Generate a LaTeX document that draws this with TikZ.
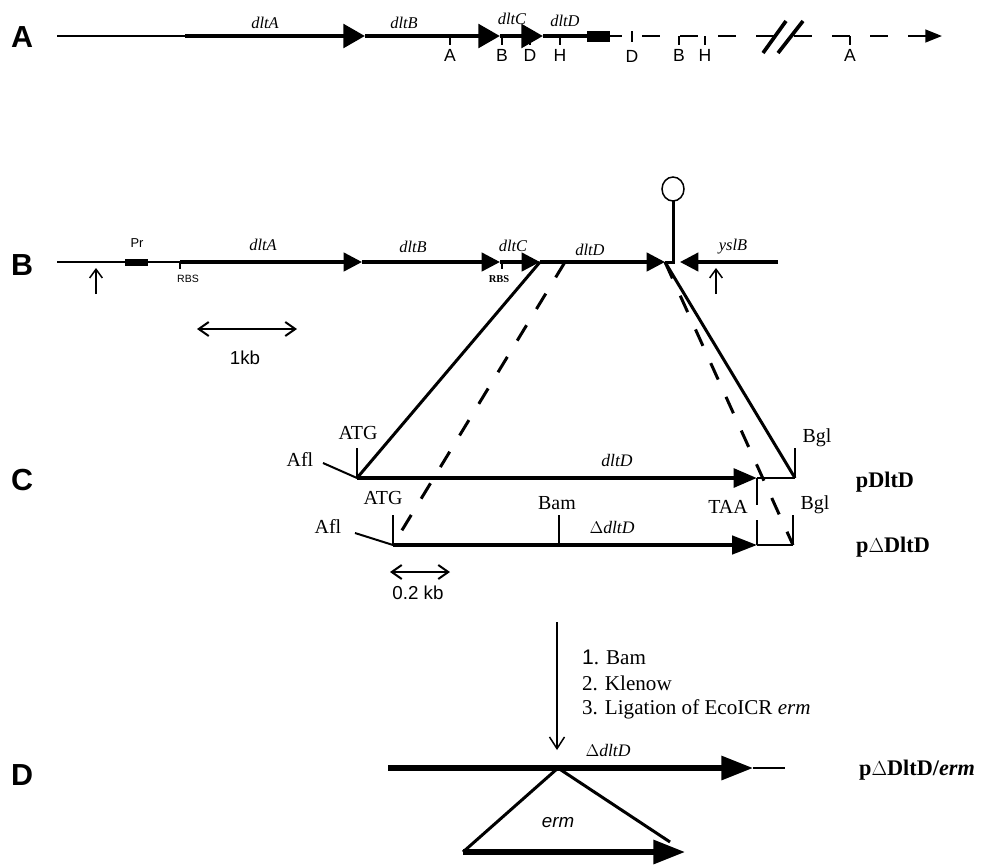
\documentclass[tikz,border=0pt]{standalone}
\usepackage{fontspec}
\setmainfont{Liberation Serif}
\setsansfont{Liberation Sans}
\usetikzlibrary{arrows.meta}

\begin{document}
\begin{tikzpicture}[
  x=0.3mm,y=-0.3mm,
  panel/.style={font=\sffamily\bfseries\fontsize{26}{26}\selectfont},
  genename/.style={font=\itshape\fontsize{14}{14}\selectfont},
  sitename/.style={font=\sffamily\fontsize{15}{15}\selectfont},
  enzyme/.style={font=\fontsize{17}{17}\selectfont},
  stepline/.style={anchor=west,font=\fontsize{18}{18}\selectfont},
  plasmid/.style={font=\bfseries\fontsize{19}{19}\selectfont},
  rbssans/.style={font=\sffamily\fontsize{9}{9}\selectfont},
  rbsserif/.style={font=\bfseries\fontsize{9}{9}\selectfont},
  scalelbl/.style={font=\sffamily\fontsize{16}{16}\selectfont},
  thinline/.style={line width=0.6mm},
  tickline/.style={line width=0.5mm},
  geneA/.style={line width=1.35mm,-{Triangle[length=6.5mm,width=7mm]}},
  geneB/.style={line width=1mm,-{Triangle[length=5.5mm,width=5.5mm]}},
  geneC/.style={line width=1.4mm,-{Triangle[length=7mm,width=5.5mm]}},
  geneD/.style={line width=1.6mm,-{Triangle[length=9.5mm,width=7mm]}},
  cross/.style={line width=0.9mm},
  crossdash/.style={cross,dash pattern=on 5.4mm off 5.7mm},
  barb/.style={line width=0.45mm,-{Straight Barb[length=2.6mm,width=3.8mm]}},
  scalebar/.style={line width=0.6mm,{Straight Barb[length=3mm,width=4.2mm]}-{Straight Barb[length=3mm,width=4.2mm]}}
]
\useasboundingbox (0,0) rectangle (985,867);

% A: the dlt operon and the map downstream of it
\node[panel] (pA) at (22,37) {A};
\coordinate (a0) at (57,36);
\coordinate (aA) at (185,36);
\coordinate (aB) at (365,36);
\coordinate (aC) at (500,36);
\coordinate (aD) at (543,36);
\coordinate (aE) at (610,36);
\coordinate (aF) at (622,36);
\draw[thinline] (a0) -- (aA);
\draw[geneA] (aA) -- (aB);
\draw[geneA] (aB) -- (aC);
\draw[geneA] (aC) -- (aD);
\draw[line width=1.35mm] (aD) -- (aE);
\fill (587,31) rectangle (610,42);
\draw[thinline] (aE) -- (aF);
\draw[line width=0.7mm,dash pattern=on 5.4mm off 6mm,
  -{Triangle[length=5mm,width=3.8mm]}] (642,36) -- (942,36);
\draw[line width=1.1mm] (763,53) -- (786,21) (778,53) -- (803,21);
\node[genename] (gA1) at (265,23) {dltA};
\node[genename] (gB1) at (404,23) {dltB};
\node[genename] (gC1) at (512,19) {dltC};
\node[genename] (gD1) at (565,21) {dltD};
\foreach \x/\lbl/\nm in {450/A/sA1,502/B/sB1,530/D/sD1,560/H/sH1,
                         679/B/sB2,705/H/sH2,850/A/sA2}{
  \draw[tickline] (\x,36) -- (\x,45);
  \node[sitename] (\nm) at (\x,55) {\lbl};
}
\draw[tickline] (632,31) -- (632,42);
\node[sitename] (sD2) at (632,56) {D};

% B: the chromosomal region used for the construct
\node[panel] (pB) at (22,265) {B};
\coordinate (b0) at (57,262);
\coordinate (bA) at (180,262);
\coordinate (bB) at (362,262);
\coordinate (bC) at (500,262);
\coordinate (bD) at (540,262);
\coordinate (bDd) at (565,262);
\coordinate (bE) at (665,262);
\coordinate (bStem) at (673,262);
\coordinate (bY) at (680,262);
\coordinate (bZ) at (778,262);
\draw[thinline] (b0) -- (bA);
\fill (125,259) rectangle (148,266);
\node[font=\sffamily\fontsize{11}{11}\selectfont] (pr) at (137,243) {Pr};
\draw[geneB] (bA) -- (bB);
\draw[geneB] (bB) -- (bC);
\draw[geneB] (bC) -- (bD);
\draw[geneB] (bD) -- (bE);
\draw[line width=0.9mm] (bE) -- (bStem) -- (673,201);
\draw[line width=0.45mm] (673,189) ellipse [x radius=11,y radius=12];
\draw[geneB] (bZ) -- (bY);
\draw[tickline] (bA) -- (180,269);
\node[rbssans] (rbs1) at (188,279) {RBS};
\draw[tickline] (502,262) -- (502,269);
\node[rbsserif] (rbs2) at (499,279) {RBS};
\node[genename] (gA2) at (263,245) {dltA};
\node[genename] (gB2) at (413,247) {dltB};
\node[genename] (gC2) at (513,246) {dltC};
\node[genename] (gD2) at (590,250) {dltD};
\node[genename] (gY) at (733,247) {yslB};
\draw[barb] (96,294) -- (96,268);
\draw[barb] (716,294) -- (716,268);
\draw[scalebar] (197,329) -- (297,329);
\node[scalelbl] (kb1) at (245,358) {1kb};

% C: the two plasmids, with the crossover lines from B
\node[panel] (pC) at (22,480) {C};
\coordinate (cAfl) at (323,463);
\coordinate (cATG) at (357,478);
\coordinate (cTAA) at (757,478);
\coordinate (cBgl) at (795,478);
\coordinate (dAfl) at (355,533);
\coordinate (dATG) at (393,545);
\coordinate (dBam) at (559,545);
\coordinate (dTAA) at (757,545);
\coordinate (dBgl) at (793,545);
\draw[cross] (bD) -- (cATG);
\draw[crossdash] (bDd) -- (dATG);
\draw[cross] (bE) -- (cBgl);
\draw[crossdash] (bE) -- (dBgl);

\draw[thinline] (cAfl) -- (cATG);
\draw[tickline] (cATG) -- (357,448);
\draw[geneC] (cATG) -- (cTAA);
\draw[thinline] (cTAA) -- (cBgl);
\draw[tickline] (cBgl) -- (795,448);
\draw[tickline] (cTAA) -- (757,505);
\node[enzyme] (afl1) at (300,459) {Afl};
\node[enzyme] (atg1) at (358,433) {ATG};
\node[font=\itshape\fontsize{15}{15}\selectfont] (gD3) at (617,460) {dltD};
\node[enzyme] (bgl1) at (817,438) {Bgl};
\node[plasmid] (pl1) at (885,482) {pDltD};

\draw[thinline] (dAfl) -- (dATG);
\draw[tickline] (dATG) -- (393,515);
\draw[line width=1.4mm] (dATG) -- (447,545);
\draw[line width=1.1mm,-{Triangle[length=7.5mm,width=5.5mm]}] (dATG) -- (dTAA);
\draw[tickline] (dBam) -- (559,515);
\draw[tickline] (dTAA) -- (757,520);
\draw[thinline] (dTAA) -- (dBgl);
\draw[tickline] (dBgl) -- (793,515);
\node[enzyme] (afl2) at (328,526) {Afl};
\node[enzyme] (atg2) at (383,498) {ATG};
\node[enzyme] (bam1) at (557,503) {Bam};
\node[enzyme] (taa) at (728,507) {TAA};
\node[font=\fontsize{15}{15}\selectfont] (gD4) at (612,527) {$\Delta$\textit{dltD}};
\node[enzyme] (bgl2) at (815,505) {Bgl};
\node[plasmid] (pl2) at (893,547) {p$\Delta$DltD};
\draw[scalebar] (390,572) -- (450,572);
\node[scalelbl] (kb2) at (418,593) {0.2 kb};

% D: insertion of the erm cassette at the Bam site
\node[panel] (pD) at (22,775) {D};
\coordinate (stTop) at (557,622);
\coordinate (stTip) at (557,750);
\draw[line width=0.45mm,-{Straight Barb[length=3.5mm,width=4.5mm]}] (stTop) -- (stTip);
\node[stepline] (st1) at (578,657) {{\sffamily 1}. Bam};
\node[stepline] (st2) at (578,683) {2. Klenow};
\node[stepline] (st3) at (578,709) {3. Ligation of EcoICR \textit{erm}};

\coordinate (e0) at (388,768);
\coordinate (eIns) at (558,768);
\coordinate (eTip) at (753,768);
\coordinate (eEnd) at (785,768);
\coordinate (rL) at (463,852);
\coordinate (rR) at (670,842);
\coordinate (rTip) at (685,852);
\draw[geneD] (e0) -- (eTip);
\draw[thinline] (eTip) -- (eEnd);
\draw[cross] (rL) -- (eIns) -- (rR);
\draw[geneD] (rL) -- (rTip);
\node[font=\fontsize{15}{15}\selectfont] (gD5) at (608,750) {$\Delta$\textit{dltD}};
\node[font=\sffamily\itshape\fontsize{16}{16}\selectfont] (erm) at (558,823) {erm};
\node[plasmid,anchor=west] (pl3) at (855,770) {p$\Delta$DltD/\textit{erm}};
\end{tikzpicture}
\end{document}
